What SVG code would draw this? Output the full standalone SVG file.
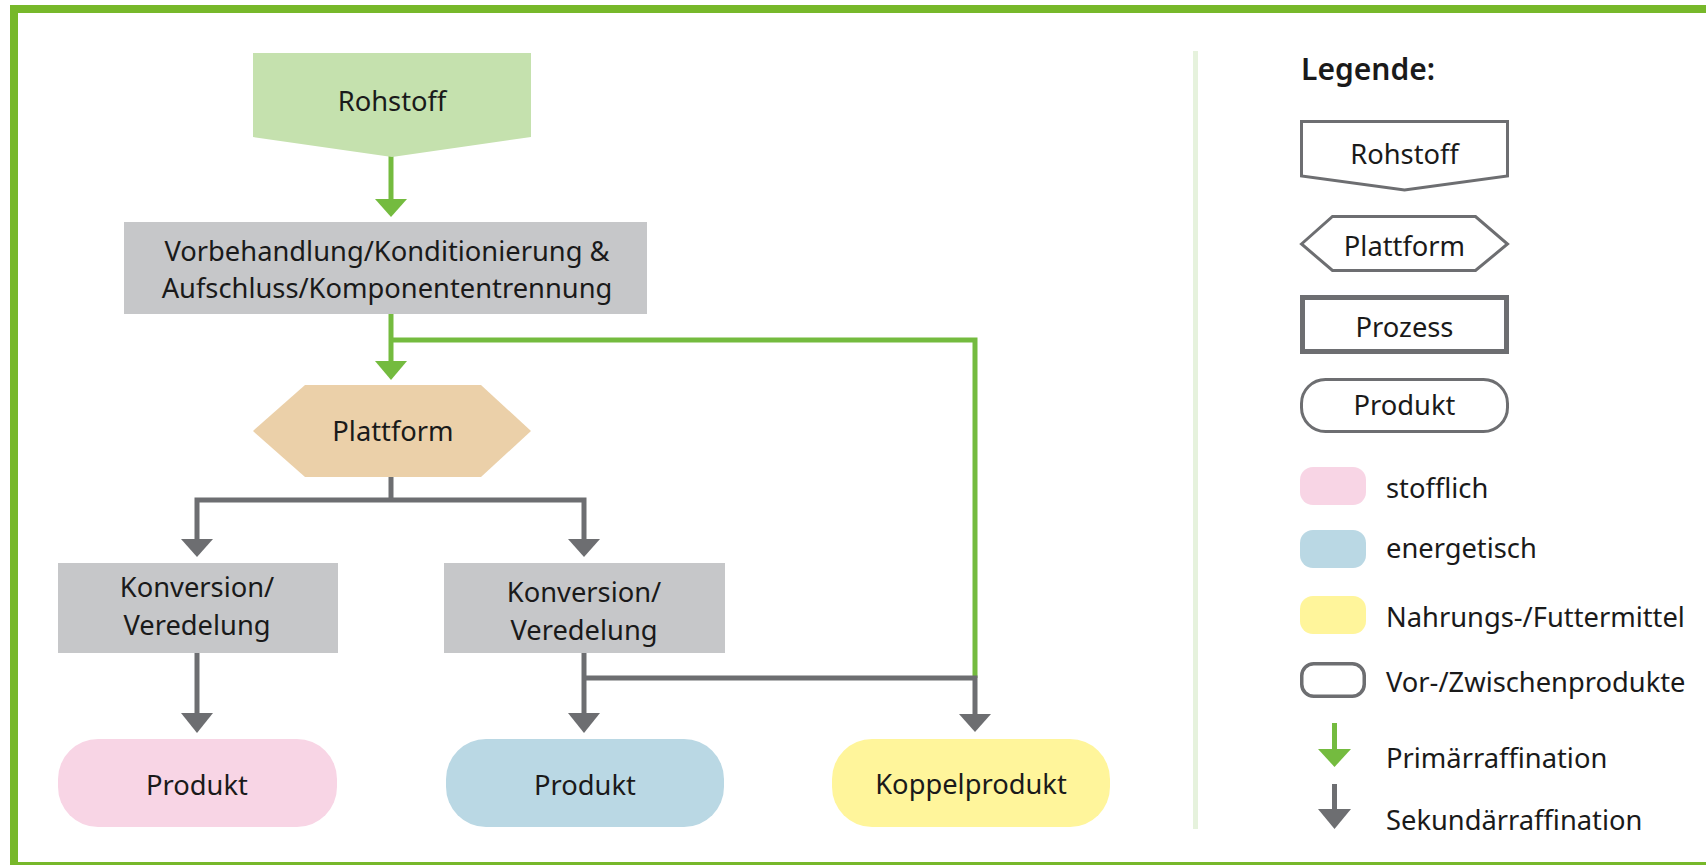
<svg xmlns="http://www.w3.org/2000/svg" width="1706" height="865" viewBox="0 0 1706 865">
<style>
text{font-family:"Noto Sans","Liberation Sans",sans-serif;font-size:27.3px;fill:#1a1a1a}
.c{text-anchor:middle}
.g{stroke:#74bb3f;stroke-width:5;fill:none}
.k{stroke:#6d6e71;stroke-width:5;fill:none}
.gh{fill:#74bb3f}
.kh{fill:#6d6e71}
.proc{fill:#c6c7c9}
.lg{fill:#fff;stroke:#6d6e71;stroke-width:3}
</style>
<rect x="0" y="0" width="1706" height="865" fill="#fff"/>
<rect x="14" y="9" width="1730" height="857" fill="none" stroke="#77b82a" stroke-width="8"/>
<line x1="1195.5" y1="51" x2="1195.5" y2="829" stroke="#e6f2dd" stroke-width="5"/>

<g id="connectors">
  <line class="g" x1="391" y1="155" x2="391" y2="201"/>
  <polygon class="gh" points="375,199 407,199 391,217"/>
  <line class="g" x1="391" y1="314" x2="391" y2="363"/>
  <polygon class="gh" points="375,361 407,361 391,380"/>
  <polyline class="g" points="391,340 975,340 975,678"/>
  <polyline class="k" points="391,477 391,500"/>
  <polyline class="k" points="197,541 197,500 584,500 584,541"/>
  <polygon class="kh" points="181,539 213,539 197,557"/>
  <polygon class="kh" points="568,539 600,539 584,557"/>
  <line class="k" x1="197" y1="653" x2="197" y2="715"/>
  <polygon class="kh" points="181,713 213,713 197,733"/>
  <line class="k" x1="584" y1="653" x2="584" y2="715"/>
  <polygon class="kh" points="568,713 600,713 584,733"/>
  <polyline class="k" points="584,678 975,678 975,716"/>
  <polygon class="kh" points="959,714 991,714 975,732"/>
</g>

<g id="rohstoff">
  <polygon points="253,53 531,53 531,137 392,157 253,137" fill="#c5e1ae"/>
  <text class="c" x="392" y="111">Rohstoff</text>
</g>
<g id="vorbehandlung">
  <rect class="proc" x="124" y="222" width="523" height="92"/>
  <text class="c" x="387" y="261">Vorbehandlung/Konditionierung &amp;</text>
  <text class="c" x="387" y="298">Aufschluss/Komponententrennung</text>
</g>
<g id="plattform">
  <polygon points="253,431 305,385 481,385 531,431 481,477 305,477" fill="#ebd0a9"/>
  <text class="c" x="393" y="441">Plattform</text>
</g>
<g id="konversion1">
  <rect class="proc" x="58" y="563" width="280" height="90"/>
  <text class="c" x="197" y="597">Konversion/</text>
  <text class="c" x="197" y="635">Veredelung</text>
</g>
<g id="konversion2">
  <rect class="proc" x="444" y="563" width="281" height="90"/>
  <text class="c" x="584" y="602">Konversion/</text>
  <text class="c" x="584" y="640">Veredelung</text>
</g>
<g id="produkt1">
  <rect x="58" y="739" width="279" height="88" rx="40" fill="#f8d5e5"/>
  <text class="c" x="197" y="795">Produkt</text>
</g>
<g id="produkt2">
  <rect x="446" y="739" width="278" height="88" rx="40" fill="#bad8e4"/>
  <text class="c" x="585" y="795">Produkt</text>
</g>
<g id="koppelprodukt">
  <rect x="832" y="739" width="278" height="88" rx="40" fill="#fff59b"/>
  <text class="c" x="971" y="794">Koppelprodukt</text>
</g>

<g id="legende">
  <text x="1301" y="80" style="font-size:30px;font-weight:600">Legende:</text>
  <g id="leg-rohstoff">
    <polygon class="lg" points="1301.5,121.5 1507.5,121.5 1507.5,176 1404.5,190 1301.5,176"/>
    <text class="c" x="1404.5" y="164">Rohstoff</text>
  </g>
  <g id="leg-plattform">
    <polygon class="lg" points="1301.5,244 1332.5,216.5 1475.5,216.5 1507.5,244 1475.5,270.5 1332.5,270.5"/>
    <text class="c" x="1404.5" y="256">Plattform</text>
  </g>
  <g id="leg-prozess">
    <rect x="1302.5" y="297.5" width="204" height="54" fill="#fff" stroke="#6d6e71" stroke-width="5"/>
    <text class="c" x="1404.5" y="337">Prozess</text>
  </g>
  <g id="leg-produkt">
    <rect class="lg" x="1301.5" y="379.5" width="206" height="52" rx="24"/>
    <text class="c" x="1404.5" y="415">Produkt</text>
  </g>
  <g id="leg-stofflich">
    <rect x="1300" y="467" width="66" height="38" rx="13" fill="#f8d5e5"/>
    <text x="1386" y="498">stofflich</text>
  </g>
  <g id="leg-energetisch">
    <rect x="1300" y="530" width="66" height="38" rx="13" fill="#bad8e4"/>
    <text x="1386" y="558">energetisch</text>
  </g>
  <g id="leg-nahrung">
    <rect x="1300" y="596" width="66" height="38" rx="13" fill="#fff59b"/>
    <text x="1386" y="627">Nahrungs-/Futtermittel</text>
  </g>
  <g id="leg-vor">
    <rect x="1301.75" y="663.75" width="62.5" height="32.5" rx="12" fill="#fff" stroke="#6d6e71" stroke-width="3.5"/>
    <text x="1386" y="692">Vor-/Zwischenprodukte</text>
  </g>
  <g id="leg-primaer">
    <line class="g" x1="1334.5" y1="723" x2="1334.5" y2="751"/>
    <polygon class="gh" points="1318,749 1351,749 1334.5,767"/>
    <text x="1386" y="768">Primärraffination</text>
  </g>
  <g id="leg-sekundaer">
    <line class="k" x1="1334.5" y1="784" x2="1334.5" y2="811"/>
    <polygon class="kh" points="1318,809 1351,809 1334.5,829"/>
    <text x="1386" y="830">Sekundärraffination</text>
  </g>
</g>
</svg>
